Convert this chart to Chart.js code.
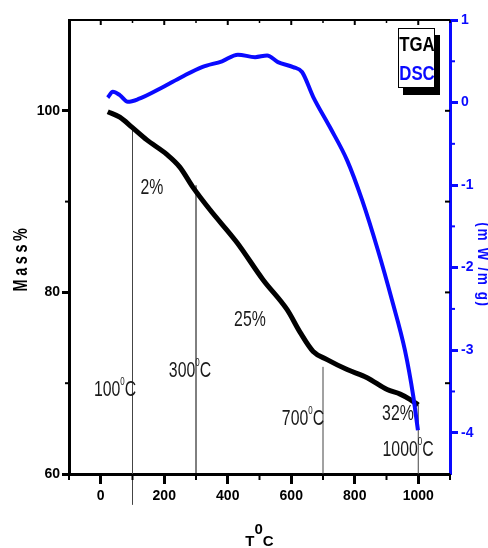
<!DOCTYPE html>
<html>
<head>
<meta charset="utf-8">
<script src="https://cdn.jsdelivr.net/npm/chart.js@4.4.1/dist/chart.umd.min.js"></script>
<style>
  html, body { margin: 0; padding: 0; background: #fff; }
  #wrap { width: 488px; height: 548px; }
</style>
</head>
<body>
<div id="wrap"><canvas id="chart"></canvas></div>
<script>
// TGA curve, mass % against temperature
const tgaTemp = [22, 60, 98, 145, 208, 249, 290, 344, 429, 511, 587, 628, 669, 713, 776, 839, 902, 943, 975, 1000];
const tgaMass = [99.9, 99.3, 98.2, 96.8, 95.2, 93.8, 91.6, 89.1, 85.5, 81.4, 78.1, 75.6, 73.5, 72.6, 71.5, 70.6, 69.3, 68.8, 68.2, 67.6];

// DSC curve, mW/mg
const dscTemp = [22, 38, 60, 85, 117, 192, 255, 319, 382, 432, 486, 524, 558, 606, 634, 669, 722, 776, 823, 873, 917, 958, 984, 999];
const dscHeat = [0.06, 0.13, 0.09, 0.01, 0.04, 0.18, 0.31, 0.43, 0.5, 0.58, 0.55, 0.57, 0.49, 0.43, 0.37, 0.07, -0.3, -0.7, -1.18, -1.79, -2.39, -3.0, -3.55, -3.97];

// tick values
const tempTicks = [0, 200, 400, 600, 800, 1000];
const tempMinor = [-100, 100, 300, 500, 700, 900, 1100];
const massTicks = [60, 80, 100];
const massMinor = [70, 90];
const dscTicks = [1, 0, -1, -2, -3, -4];
const dscMinor = [0.5, -0.5, -1.5, -2.5, -3.5];

// step marker lines
const stepTemp = [100, 300, 700, 1000];
const stepTop = [98.1, 91.8, 71.8, 67.6];
const stepBottom = [56.6, 60, 60, 60];

// texts on the plot
const lossLabels = ['2%', '25%', '32%'];
const stepLabels = ['100', '300', '700', '1000'];

// where those texts sit, in data units (temperature, mass)
const lossAt = [[161, 91.7], [470, 77.2], [936, 66.8]];
const stepAt = [[45, 69.5], [281, 71.5], [637, 66.3], [968, 62.9]];

const FONT = '"Liberation Sans", Arial, sans-serif';
const BLUE = '#0a0aff';

function pts(xs, ys) {
  return xs.map((x, i) => ({ x, y: ys[i] }));
}

// draws text pieces narrowed horizontally, centered at x, cap-middle at y
function squeezed(ctx, parts, x, y, sx, size) {
  let w = 0;
  parts.forEach(p => {
    ctx.font = (p.bold ? 'bold ' : '') + p.size + 'px ' + FONT;
    p.w = ctx.measureText(p.t).width;
    w += p.w;
  });
  ctx.save();
  ctx.translate(x - w * sx / 2, y + 0.358 * size);
  ctx.scale(sx, 1);
  ctx.textBaseline = 'alphabetic';
  ctx.textAlign = 'left';
  let cx = 0;
  parts.forEach(p => {
    ctx.font = (p.bold ? 'bold ' : '') + p.size + 'px ' + FONT;
    ctx.fillText(p.t, cx, -(p.rise || 0));
    cx += p.w;
  });
  ctx.restore();
}

function vtext(ctx, text, x, y, angle, size, spacing, sx, color) {
  ctx.save();
  ctx.translate(x, y);
  ctx.rotate(angle);
  ctx.scale(sx, 1);
  ctx.font = 'bold ' + size + 'px ' + FONT;
  ctx.letterSpacing = spacing + 'px';
  ctx.fillStyle = color;
  ctx.textAlign = 'center';
  ctx.textBaseline = 'middle';
  ctx.fillText(text, 0, 0);
  ctx.restore();
}

const extras = {
  id: 'extras',
  afterDraw(chart) {
    const ctx = chart.ctx;
    const a = chart.chartArea;
    const xs = chart.scales.x, ys = chart.scales.y, y2 = chart.scales.y2;

    ctx.save();
    // top frame line
    ctx.strokeStyle = '#000';
    ctx.lineWidth = 2;
    ctx.beginPath();
    ctx.moveTo(a.left, a.top);
    ctx.lineTo(a.right, a.top);
    ctx.stroke();

    const tick = (x1, y1, x2, y2p, color, w) => {
      ctx.strokeStyle = color;
      ctx.lineWidth = w;
      ctx.beginPath();
      ctx.moveTo(x1, y1);
      ctx.lineTo(x2, y2p);
      ctx.stroke();
    };

    tempMinor.forEach(v => {
      const px = xs.getPixelForValue(v);
      tick(px, a.bottom, px, a.bottom + 6, '#000', 2);
      tick(px, a.top, px, a.top + 3, '#000', 1.5);
    });
    tempTicks.forEach(v => {
      const px = xs.getPixelForValue(v);
      tick(px, a.top, px, a.top + 5, '#000', 2);
    });
    massMinor.forEach(v => {
      const py = ys.getPixelForValue(v);
      tick(a.left - 4, py, a.left, py, '#000', 2);
    });
    massTicks.concat(massMinor).forEach(v => {
      const py = ys.getPixelForValue(v);
      tick(a.right - 5, py, a.right, py, '#000', 2);
    });
    dscMinor.forEach(v => {
      const py = y2.getPixelForValue(v);
      tick(a.right, py, a.right + 5, py, BLUE, 2);
    });

    // texts on the plot
    ctx.fillStyle = '#1a1a1a';
    lossLabels.forEach((t, i) => {
      const px = xs.getPixelForValue(lossAt[i][0]);
      const py = ys.getPixelForValue(lossAt[i][1]);
      squeezed(ctx, [{ t, size: 22 }], px, py, 0.72, 22);
    });
    stepLabels.forEach((t, i) => {
      const px = xs.getPixelForValue(stepAt[i][0]);
      const py = ys.getPixelForValue(stepAt[i][1]);
      squeezed(ctx, [{ t, size: 22 }, { t: '0', size: 11, rise: 11 }, { t: 'C', size: 22 }], px, py, 0.72, 22);
    });

    // axis titles
    ctx.fillStyle = '#000';
    squeezed(ctx, [{ t: 'T', size: 15, bold: true }, { t: '0', size: 15, bold: true, rise: 12 }, { t: 'C', size: 15, bold: true }],
      (a.left + a.right) / 2, 541, 1, 15);
    vtext(ctx, 'Mass%', 21, 258, -Math.PI / 2, 20, 5, 0.72, '#000');
    vtext(ctx, '(m W /m g)', 483, 265, Math.PI / 2, 17, 2, 0.8, BLUE);

    // legend box with drop shadow
    ctx.fillStyle = '#000';
    ctx.fillRect(403, 35, 37, 60);
    ctx.fillStyle = '#fff';
    ctx.fillRect(398, 28, 37, 60);
    ctx.strokeStyle = '#000';
    ctx.lineWidth = 1;
    ctx.strokeRect(398.5, 28.5, 36, 59);
    ctx.fillStyle = '#000';
    squeezed(ctx, [{ t: 'TGA', size: 21, bold: true }], 417, 43, 0.8, 21);
    ctx.fillStyle = BLUE;
    squeezed(ctx, [{ t: 'DSC', size: 21, bold: true }], 417, 72, 0.8, 21);
    ctx.restore();
  }
};

const stepSets = stepTemp.map((t, i) => ({
  data: [{ x: t, y: stepBottom[i] }, { x: t, y: stepTop[i] }],
  borderColor: i === 1 ? '#000' : '#444',
  borderWidth: 1,
  pointRadius: 0,
  yAxisID: 'y',
  clip: false,
  order: 3
}));

new Chart(document.getElementById('chart'), {
  type: 'line',
  data: {
    datasets: [
      {
        label: 'DSC',
        data: pts(dscTemp, dscHeat),
        borderColor: BLUE,
        borderWidth: 4,
        pointRadius: 0,
        cubicInterpolationMode: 'monotone',
        yAxisID: 'y2',
        order: 1
      },
      {
        label: 'TGA',
        data: pts(tgaTemp, tgaMass),
        borderColor: '#000',
        borderWidth: 5,
        pointRadius: 0,
        cubicInterpolationMode: 'monotone',
        yAxisID: 'y',
        order: 2
      },
      ...stepSets
    ]
  },
  options: {
    responsive: true,
    maintainAspectRatio: false,
    animation: false,
    layout: { padding: { top: 20, left: 0, right: 0, bottom: 0 } },
    plugins: {
      legend: { display: false },
      tooltip: { enabled: false }
    },
    scales: {
      x: {
        type: 'linear',
        min: -100,
        max: 1100,
        afterBuildTicks: s => { s.ticks = tempTicks.map(value => ({ value })); },
        afterFit: s => { s.height = 74; },
        border: { color: '#000', width: 3 },
        grid: { drawOnChartArea: false, tickLength: 10, tickWidth: 3, tickColor: '#000' },
        ticks: {
          color: '#000',
          padding: 4,
          font: { family: FONT, size: 14, weight: 'bold' },
          maxRotation: 0,
          callback: v => String(v)
        }
      },
      y: {
        position: 'left',
        min: 60,
        max: 110,
        afterBuildTicks: s => { s.ticks = massTicks.map(value => ({ value })); },
        afterFit: s => { s.width = 69; },
        border: { color: '#000', width: 3 },
        grid: { drawOnChartArea: false, tickLength: 7, tickWidth: 3, tickColor: '#000' },
        ticks: {
          color: '#000',
          padding: 2,
          font: { family: FONT, size: 14, weight: 'bold' },
          callback: v => String(v)
        }
      },
      y2: {
        position: 'right',
        min: -4.5,
        max: 1,
        afterBuildTicks: s => { s.ticks = dscTicks.map(value => ({ value })); },
        afterFit: s => { s.width = 38; },
        border: { color: BLUE, width: 3 },
        grid: { drawOnChartArea: false, tickLength: 8, tickWidth: 3, tickColor: BLUE },
        ticks: {
          color: BLUE,
          padding: 3,
          font: { family: FONT, size: 14, weight: 'bold' },
          callback: v => String(v)
        }
      }
    }
  },
  plugins: [extras]
});
</script>
</body>
</html>
